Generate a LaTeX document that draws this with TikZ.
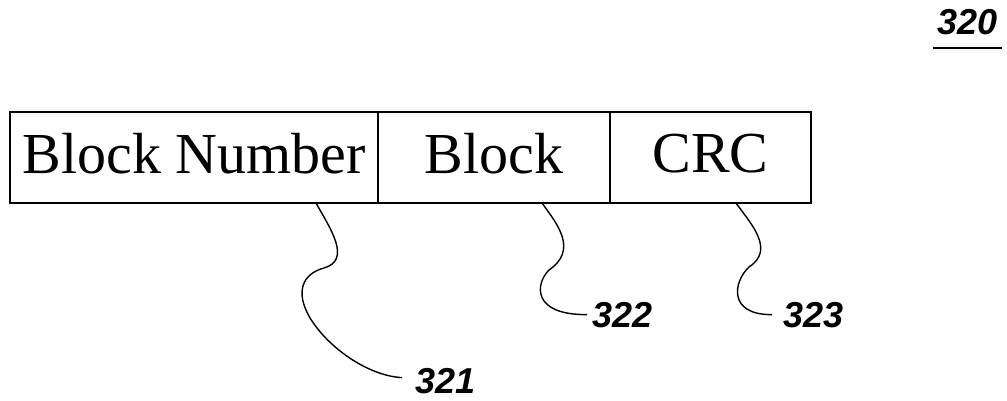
\documentclass[tikz,border=0pt]{standalone}
\usepackage{fontspec}
\setmainfont{Liberation Serif}
\newfontfamily\labelfont{Liberation Sans}
\usetikzlibrary{positioning}

\begin{document}
\begin{tikzpicture}[x=1pt, y=-1pt,
    field/.style={draw, line width=1.6pt, outer sep=0pt, inner sep=0pt, minimum height=91pt, text depth=9pt, font=\fontsize{58}{58}\selectfont},
    refnum/.style={font=\labelfont\bfseries\itshape\fontsize{36}{36}\selectfont, inner sep=0pt},
    leader/.style={line width=1.4pt}
  ]
    \useasboundingbox (0,0) rectangle (1007,400);

    % Packet fields
    \node[field, minimum width=368pt, anchor=north west] at (10,112) (blocknum) {Block Number};
    \node[field, minimum width=232pt, anchor=west] at (blocknum.east) (block) {Block};
    \node[field, minimum width=201pt, anchor=west] at (block.east) (crc) {CRC};

    % Reference numerals
    \node[refnum, anchor=base east] at (998,34) (n320) {320};
    \draw[line width=1.4pt] ([xshift=-5pt,yshift=-14pt]n320.base west) -- ([xshift=4pt,yshift=-14pt]n320.base east);
    \node[refnum, anchor=base west] at (415,393) (n321) {321};
    \node[refnum, anchor=base west] at (592,327) (n322) {322};
    \node[refnum, anchor=base west] at (783,327) (n323) {323};

    % Leader lines
    \draw[leader] ([xshift=122pt]blocknum.south) .. controls (330,228) and (352,260) .. (324,268)
        .. controls (302,274) and (295,292) .. (310,318)
        .. controls (330,350) and (370,376) .. ([xshift=-13pt,yshift=3pt]n321.west);
    \draw[leader] ([xshift=48pt]block.south) .. controls (558,225) and (578,250) .. (549,270)
        .. controls (535,284) and (532,315) .. ([xshift=-5pt]n322.west);
    \draw[leader] ([xshift=25.5pt]crc.south) .. controls (752,225) and (775,250) .. (749,267)
        .. controls (733,282) and (728,315) .. ([xshift=-11pt]n323.west);
\end{tikzpicture}
\end{document}
